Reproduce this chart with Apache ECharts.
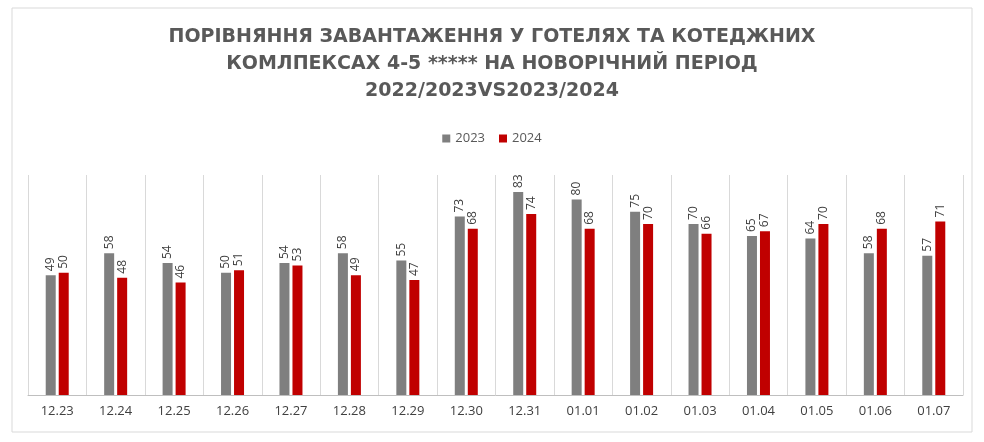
<!DOCTYPE html>
<html><head><meta charset="utf-8">
<script src="https://cdn.jsdelivr.net/npm/echarts@6/dist/echarts.min.js"></script>
<style>html,body{margin:0;padding:0;background:#fff;}#c{width:984px;height:442px;}</style>
</head><body><div id="c"></div>
<script>
const categories=['12.23','12.24','12.25','12.26','12.27','12.28','12.29','12.30','12.31','01.01','01.02','01.03','01.04','01.05','01.06','01.07'];
const s2023=[49,58,54,50,54,58,55,73,83,80,75,70,65,64,58,57];
const s2024=[50,48,46,51,53,49,47,68,74,68,70,66,67,70,68,71];
const titleText='ПОРІВНЯННЯ ЗАВАНТАЖЕННЯ У ГОТЕЛЯХ ТА КОТЕДЖНИХ\nКОМЛПЕКСАХ 4-5 ***** НА НОВОРІЧНИЙ ПЕРІОД\n2022/2023VS2023/2024';
const chart=echarts.init(document.getElementById('c'));
const lbl={show:true,position:'top',rotate:90,align:'left',verticalAlign:'middle',distance:4,color:'#404040',fontSize:12,fontFamily:'Open Sans'};
chart.setOption({
  animation:false,
  graphic:[
    {type:'rect',shape:{x:12,y:8,width:960,height:424},style:{fill:'none',stroke:'#d9d9d9',lineWidth:1}},
    {type:'text',x:492,y:24,style:{text:titleText,textAlign:'center',textVerticalAlign:'top',
      font:'bold 19px "DejaVu Sans"',fill:'#595959',lineHeight:27}}
  ],
  legend:{top:127,left:'center',itemWidth:8,itemHeight:8,itemGap:14,icon:'rect',
    textStyle:{color:'#595959',fontSize:13,fontFamily:'Open Sans'},data:['2023','2024']},
  grid:{left:28,right:21,top:175,bottom:47},
  xAxis:{type:'category',data:categories,
    axisLine:{lineStyle:{color:'#bfbfbf'}},axisTick:{show:false},
    splitLine:{show:true,lineStyle:{color:'#d9d9d9'}},
    axisLabel:{color:'#404040',fontSize:13,fontFamily:'Open Sans',margin:10,interval:0}},
  yAxis:{type:'value',min:0,max:90,show:false,splitLine:{show:false}},
  series:[
    {name:'2023',type:'bar',data:s2023,barWidth:10,barGap:'30%',itemStyle:{color:'#7f7f7f'},label:lbl},
    {name:'2024',type:'bar',data:s2024,barWidth:10,itemStyle:{color:'#c00000'},label:lbl}
  ]
});
</script></body></html>
